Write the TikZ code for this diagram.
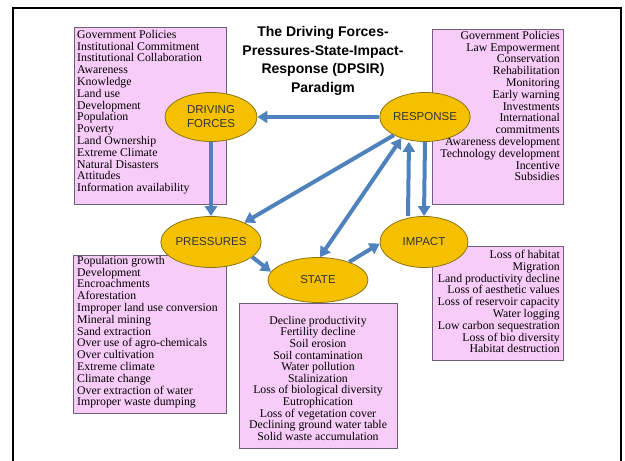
\documentclass[tikz,border=0pt]{standalone}
\usepackage{fontspec}
\setmainfont{Liberation Serif}
\newfontfamily\arialfont{Liberation Sans}
\usetikzlibrary{arrows.meta,shapes.geometric}
\definecolor{boxfill}{HTML}{F8CCF8}
\definecolor{boxline}{HTML}{6E6078}
\definecolor{ovalfill}{HTML}{F5C000}
\definecolor{ovalline}{HTML}{8C7410}
\definecolor{flowblue}{HTML}{4F81BD}

\begin{document}
\begin{tikzpicture}[x=1pt,y=-1pt,
  listbox/.style={rectangle,draw=boxline,fill=boxfill,line width=0.9pt,inner sep=0pt},
  listtext/.style={inner sep=0pt,font=\fontsize{11.8}{11.8}\selectfont},
  oval/.style={ellipse,draw=ovalline,fill=ovalfill,line width=0.8pt,inner sep=0pt,
    font=\arialfont\fontsize{11.5}{14}\selectfont,text=black!80,align=center},
  flow/.style={-{Triangle[length=10pt,width=12pt]},line width=4pt,color=flowblue},
  flowboth/.style={flow,{Triangle[length=10pt,width=12pt]}-{Triangle[length=10pt,width=12pt]}}]
\useasboundingbox (0,0) rectangle (625,461);
% \draw[help lines,step=50] (0,0) grid (625,461);
\draw[line width=2pt] (13,461) -- (13,7.5) -- (620.5,7.5) -- (620.5,461);
\node (title) [inner sep=0pt,align=center,font=\arialfont\bfseries\fontsize{14}{18.5}\selectfont] at (323,61)
  {The Driving Forces-\\Pressures-State-Impact-\\Response (DPSIR)\\Paradigm};
%
\node (dfbox) [listbox,minimum width=152,minimum height=177] at (150,115.5) {};
\node (rebox) [listbox,minimum width=131,minimum height=175] at (497.5,116.5) {};
\node (prbox) [listbox,minimum width=153,minimum height=158] at (149.5,334) {};
\node (stbox) [listbox,minimum width=158,minimum height=145] at (318,375.5) {};
\node (imbox) [listbox,minimum width=131,minimum height=114] at (497.5,303) {};
%
\node (dftext) [listtext,align=left,anchor=north west] at (77,30) {Government Policies\\Institutional Commitment\\Institutional Collaboration\\Awareness\\Knowledge\\Land use\\Development\\Population\\Poverty\\Land Ownership\\Extreme Climate\\Natural Disasters\\Attitudes\\Information availability};
\node (retext) [listtext,align=right,anchor=north east] at (560,31) {Government Policies\\Law Empowerment\\Conservation\\Rehabilitation\\Monitoring\\Early warning\\Investments\\International\\commitments\\Awareness development\\Technology development\\Incentive\\Subsidies};
\node (prtext) [listtext,align=left,anchor=north west] at (77,256) {Population growth\\Development\\Encroachments\\Aforestation\\Improper land use conversion\\Mineral mining\\Sand extraction\\Over use of agro-chemicals\\Over cultivation\\Extreme climate\\Climate change\\Over extraction of water\\Improper waste dumping};
\node (sttext) [listtext,align=center,anchor=north,font=\fontsize{11.8}{11.6}\selectfont] at (318,316) {Decline productivity\\Fertility decline\\Soil erosion\\Soil contamination\\Water pollution\\Stalinization\\Loss of biological diversity\\Eutrophication\\Loss of vegetation cover\\Declining ground water table\\Solid waste accumulation};
\node (imtext) [listtext,align=right,anchor=north east] at (560,250) {Loss of habitat\\Migration\\Land productivity decline\\Loss of aesthetic values\\Loss of reservoir capacity\\Water logging\\Low carbon sequestration\\Loss of bio diversity\\Habitat destruction};
%
\node (df) [oval,minimum width=92,minimum height=49] at (211,117) {DRIVING\\FORCES};
\node (re) [oval,minimum width=90,minimum height=49] at (425,117) {RESPONSE};
\node (pr) [oval,minimum width=92,minimum height=51] at (211,242) {PRESSURES};
\node (im) [oval,minimum width=88,minimum height=51] at (424,242) {IMPACT};
\node (st) [oval,minimum width=100,minimum height=45] at (318,280) {STATE};
%
\path[flow] (re) edge (df);
\path[flow] (df) edge (pr);
\path[flow] (re) edge (pr);
\path[flowboth] (re.222) edge (st.85);
\path[flow] (re.south) edge (im.north);
\path[flow] ([xshift=-16pt]im.north) edge ([xshift=-16pt]re.south);
\path[flow] (pr.-20) edge (st.170);
\path[flow] (st.30) edge (im.182);
\end{tikzpicture}
\end{document}
